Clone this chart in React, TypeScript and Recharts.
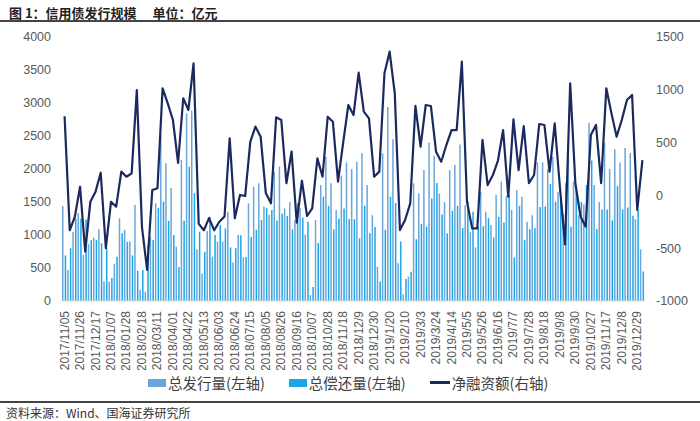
import React from "react";
import { ComposedChart, Bar, Line, XAxis, YAxis } from "recharts";

// weekly dates (last point is the year-end week)
const dates = [
  "2017/11/05", "2017/11/12", "2017/11/19", "2017/11/26", "2017/12/03", "2017/12/10", "2017/12/17", "2017/12/24", "2017/12/31",
  "2018/01/07", "2018/01/14", "2018/01/21", "2018/01/28", "2018/02/04", "2018/02/11", "2018/02/18", "2018/02/25", "2018/03/04",
  "2018/03/11", "2018/03/18", "2018/03/25", "2018/04/01", "2018/04/08", "2018/04/15", "2018/04/22", "2018/04/29", "2018/05/06",
  "2018/05/13", "2018/05/20", "2018/05/27", "2018/06/03", "2018/06/10", "2018/06/17", "2018/06/24", "2018/07/01", "2018/07/08",
  "2018/07/15", "2018/07/22", "2018/07/29", "2018/08/05", "2018/08/12", "2018/08/19", "2018/08/26", "2018/09/02", "2018/09/09",
  "2018/09/16", "2018/09/23", "2018/09/30", "2018/10/07", "2018/10/14", "2018/10/21", "2018/10/28", "2018/11/04", "2018/11/11",
  "2018/11/18", "2018/11/25", "2018/12/2", "2018/12/9", "2018/12/16", "2018/12/23", "2018/12/30",
  "2019/1/6", "2019/1/13", "2019/1/20", "2019/1/27", "2019/2/3", "2019/2/10", "2019/2/17", "2019/2/24", "2019/3/3",
  "2019/3/10", "2019/3/17", "2019/3/24", "2019/3/31", "2019/4/7", "2019/4/14", "2019/4/21", "2019/4/28", "2019/5/5",
  "2019/5/12", "2019/5/19", "2019/5/26", "2019/6/2", "2019/6/9", "2019/6/16", "2019/6/23", "2019/6/30", "2019/7/7",
  "2019/7/14", "2019/7/21", "2019/7/28", "2019/8/4", "2019/8/11", "2019/8/18", "2019/8/25", "2019/9/1", "2019/9/8",
  "2019/9/15", "2019/9/22", "2019/9/30", "2019/10/13", "2019/10/20", "2019/10/27", "2019/11/3", "2019/11/10", "2019/11/17",
  "2019/11/24", "2019/12/1", "2019/12/8", "2019/12/15", "2019/12/22", "2019/12/29", "2019/12/31",
];

// 总发行量 (亿元, left axis)
const issuance = [
  1440, 470, 1050, 1330, 700, 865, 960, 1090, 300, 290, 563, 1253, 1076, 900, 1455, 170, 141, 975, 1480, 2519,
  2086, 1714, 823, 2136, 2844, 2883, 780, 417, 1062, 670, 900, 900, 1353, 583, 1000, 661, 1480, 1732, 1783, 1430,
  1304, 1960, 2035, 1404, 1500, 1222, 1404, 1007, 90, 1228, 1757, 2187, 1783, 1379, 1900, 2100, 2000, 2111, 2237, 1757,
  1300, 520, 2237, 2941, 2450, 572, 100, 369, 1783, 1631, 1985, 2400, 2200, 1631, 1500, 1985, 2060, 2370, 1450, 1042,
  814, 1657, 1354, 1152, 1606, 1808, 1594, 1379, 1682, 1580, 1202, 1300, 2100, 2100, 2000, 2187, 1650, 1320, 2187, 1808,
  1300, 1461, 2700, 1757, 1500, 2400, 2000, 2300, 2100, 2318, 2242, 1241, 783,
];

// 总偿还量 (亿元, left axis)
const repayment = [
  690, 800, 1250, 1248, 1233, 925, 925, 875, 800, 350, 670, 1028, 899, 691, 457, 470, 847, 924, 1413, 1505,
  1214, 1000, 516, 1216, 2035, 1632, 1050, 747, 1277, 1000, 1150, 1100, 812, 800, 996, 667, 971, 1081, 1227, 1407,
  1379, 1220, 1321, 1289, 1086, 1480, 1265, 1202, 212, 877, 1580, 1442, 1085, 1249, 1400, 1244, 1239, 949, 1444, 1027,
  1123, 295, 1081, 1580, 1483, 900, 333, 444, 936, 1170, 1129, 1553, 1786, 1312, 1023, 1366, 1441, 1104, 1510, 1354,
  1126, 1132, 1256, 962, 1276, 1189, 1606, 659, 1442, 923, 1087, 1107, 1424, 1433, 1775, 1504, 1568, 1783, 1125, 1693,
  1500, 1757, 2128, 1090, 1385, 1386, 1223, 1744, 1386, 1415, 1291, 1379, 448,
];

// 净融资额 (亿元, right axis)
const netFinancing = [
  750, -330, -200, 82, -533, -60, 35, 215, -500, -60, -107, 225, 177, 209, 998, -300, -706, 51, 67, 1014,
  872, 714, 307, 920, 809, 1251, -270, -330, -215, -330, -250, -200, 541, -217, 4, -6, 509, 651, 556, 23,
  -75, 740, 714, 115, 414, -258, 139, -195, -122, 351, 177, 745, 698, 130, 500, 856, 761, 1162, 793, 730,
  177, 225, 1156, 1361, 967, -328, -233, -75, 847, 461, 856, 847, 414, 319, 477, 619, 619, 1266, -60, -312,
  -312, 525, 98, 190, 330, 619, -12, 720, 240, 657, 115, 193, 676, 667, 225, 683, 82, -463, 1062, 115,
  -200, -296, 572, 667, 115, 1014, 777, 556, 714, 903, 951, -138, 335,
];

const leftTicks = [0, 500, 1000, 1500, 2000, 2500, 3000, 3500, 4000];
const rightTicks = [-1000, -500, 0, 500, 1000, 1500];

const data = dates.map((date, i) => ({
  date,
  issuance: issuance[i],
  repayment: repayment[i],
  net: netFinancing[i],
}));

const ISSUE_COLOR = "#6AA6DC";
const REPAY_COLOR = "#1AA7E8";
const NET_COLOR = "#1B2A5E";
const TICK_FONT = "'Liberation Sans', Arial, sans-serif";
const CJK_FONT = "'Noto Sans CJK SC', 'Noto Sans', sans-serif";

const DateTick = ({ x, y, payload }: any) => {
  const ty = y + 2;
  return (
    <text
      x={x}
      y={ty}
      transform={`rotate(-90, ${x}, ${ty})`}
      textAnchor="end"
      dominantBaseline="central"
      fontSize={12}
      fontFamily={TICK_FONT}
      fill="#595959"
    >
      {payload.value}
    </text>
  );
};

const LegendItem = ({ kind, color, label }: { kind: "bar" | "line"; color: string; label: string }) => (
  <div style={{ display: "flex", alignItems: "center", marginRight: 24 }}>
    {kind === "bar" ? (
      <span style={{ display: "inline-block", width: 18, height: 8, background: color, marginRight: 2 }} />
    ) : (
      <span style={{ display: "inline-block", width: 20, height: 2.5, background: color, marginRight: 2 }} />
    )}
    <span>{label}</span>
  </div>
);

const App = () => {
  return (
    <div style={{ position: "relative", width: 700, height: 421, background: "#fff", overflow: "hidden" }}>
      <style>{`body{margin:0}`}</style>
      <div
        style={{
          position: "absolute",
          left: 9,
          top: 3,
          fontFamily: CJK_FONT,
          fontSize: 13,
          fontWeight: 700,
          color: "#222",
          whiteSpace: "pre",
        }}
      >
        {"图 1：信用债发行规模　 单位：亿元"}
      </div>
      <div style={{ position: "absolute", left: 0, top: 20, width: 700, height: 2, background: "#444" }} />

      <div style={{ position: "absolute", left: 0, top: 0 }}>
        <ComposedChart
          width={700}
          height={370}
          data={data}
          margin={{ top: 37, right: 0, left: 0, bottom: 0 }}
          barGap={1.2}
        >
          <XAxis
            dataKey="date"
            interval={2}
            tick={<DateTick />}
            tickLine={false}
            axisLine={{ stroke: "#d9d9d9" }}
            height={69}
          />
          <YAxis
            yAxisId="left"
            domain={[0, 4000]}
            ticks={leftTicks}
            axisLine={false}
            tickLine={false}
            tickMargin={5}
            width={62}
            tick={{ fontSize: 12.5, fontFamily: TICK_FONT, fill: "#595959" }}
          />
          <YAxis
            yAxisId="right"
            orientation="right"
            domain={[-1000, 1500]}
            ticks={rightTicks}
            axisLine={false}
            tickLine={false}
            tickMargin={5}
            width={55}
            tick={{ fontSize: 12.5, fontFamily: TICK_FONT, fill: "#595959", textAnchor: "start" }}
          />
          <Bar yAxisId="left" dataKey="issuance" fill={ISSUE_COLOR} barSize={1.5} isAnimationActive={false} />
          <Bar yAxisId="left" dataKey="repayment" fill={REPAY_COLOR} barSize={1.5} isAnimationActive={false} />
          <Line
            yAxisId="right"
            dataKey="net"
            type="linear"
            stroke={NET_COLOR}
            strokeWidth={2.2}
            strokeLinejoin="round"
            dot={false}
            activeDot={false}
            isAnimationActive={false}
          />
        </ComposedChart>
      </div>

      <div
        style={{
          position: "absolute",
          left: 148,
          top: 372,
          display: "flex",
          fontFamily: CJK_FONT,
          fontSize: 14.5,
          color: "#404040",
        }}
      >
        <LegendItem kind="bar" color={ISSUE_COLOR} label="总发行量(左轴)" />
        <LegendItem kind="bar" color={REPAY_COLOR} label="总偿还量(左轴)" />
        <LegendItem kind="line" color={NET_COLOR} label="净融资额(右轴)" />
      </div>

      <div style={{ position: "absolute", left: 0, top: 401, width: 700, height: 2, background: "#444" }} />
      <div
        style={{
          position: "absolute",
          left: 6,
          top: 404,
          fontFamily: CJK_FONT,
          fontSize: 12,
          color: "#333",
        }}
      >
        资料来源：Wind、国海证券研究所
      </div>
    </div>
  );
};

export default App;
